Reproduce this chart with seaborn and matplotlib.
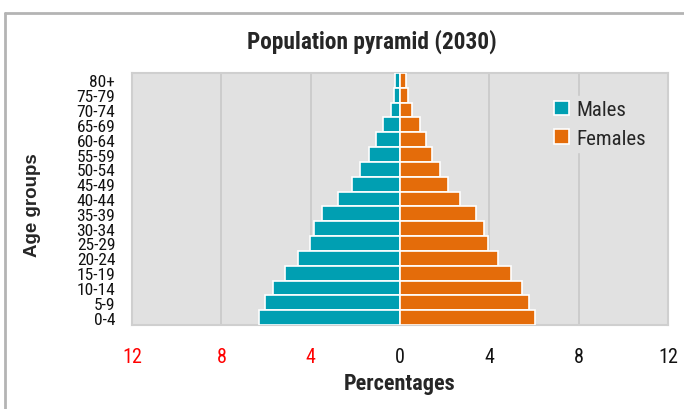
import matplotlib
matplotlib.use("Agg")
import matplotlib.pyplot as plt
import seaborn as sns
import pandas as pd
from matplotlib.lines import Line2D

age_groups = ["80+", "75-79", "70-74", "65-69", "60-64", "55-59", "50-54", "45-49",
              "40-44", "35-39", "30-34", "25-29", "20-24", "15-19", "10-14", "5-9", "0-4"]
males = [0.22, 0.27, 0.42, 0.78, 1.09, 1.40, 1.78, 2.17, 2.76, 3.51, 3.87, 4.05,
         4.56, 5.16, 5.68, 6.06, 6.33]
females = [0.28, 0.34, 0.55, 0.88, 1.15, 1.43, 1.78, 2.14, 2.69, 3.42, 3.75, 3.92,
           4.38, 4.95, 5.46, 5.79, 6.04]
x_ticks = [-12, -8, -4, 0, 4, 8, 12]
x_tick_labels = ["12", "8", "4", "0", "4", "8", "12"]

sns.set_style("white")
plt.rcParams["font.family"] = ["Liberation Sans Narrow", "Roboto Condensed", "DejaVu Sans"]

df = pd.DataFrame({
    "age": age_groups * 2,
    "value": [-m for m in males] + females,
    "sex": ["Males"] * len(age_groups) + ["Females"] * len(age_groups),
})

fig = plt.figure(figsize=(6.84, 4.10), dpi=100)
ax = fig.add_axes([132 / 684, 1 - 326 / 410, (668 - 132) / 684, (326 - 74) / 410])
ax.set_facecolor("#e1e1e1")

sns.barplot(data=df, y="age", x="value", hue="sex", order=age_groups,
            hue_order=["Males", "Females"], palette=["#009fb2", "#e46c0a"],
            saturation=1, dodge=False, width=1.0, orient="h", edgecolor="white",
            linewidth=1.2, ax=ax, zorder=3)

ax.set_xlim(-12, 12)
ax.set_ylim(len(age_groups) - 0.5, -0.5)
ax.set_xticks(x_ticks)
ax.set_xticklabels(x_tick_labels)
for lbl, v in zip(ax.get_xticklabels(), x_ticks):
    lbl.set_color("#ff0000" if v < 0 else "#111111")
ax.tick_params(axis="x", length=7, color="#cccccc", width=1, labelsize=14.5, pad=9)
ax.tick_params(axis="y", length=0, labelsize=12.5, pad=12, labelcolor="#111111")
ax.xaxis.grid(True, color="#c8c8c8", linewidth=1.2, zorder=0)
ax.set_axisbelow(True)
for s in ax.spines.values():
    s.set_color("#cfcfcf")
    s.set_linewidth(1.5)

ax.set_xlabel("Percentages", fontsize=16, fontweight="bold", labelpad=4)
ax.set_ylabel("Age groups", fontsize=13.5, fontweight="bold",
              family=["Liberation Sans", "DejaVu Sans"])
ax.yaxis.set_label_coords(-0.17, 0.48)

leg = ax.legend(loc="upper left", bbox_to_anchor=(0.76, 0.95), frameon=True,
                facecolor="#e1e1e1", edgecolor="#e1e1e1", framealpha=1,
                fontsize=15, handlelength=0.7, handleheight=0.7,
                handletextpad=0.4, labelspacing=0.45, borderpad=0.2)
leg.set_zorder(5)

fig.text(372 / 684, 1 - 42 / 410, "Population pyramid (2030)", ha="center", va="center",
         fontsize=16.8, fontweight="bold")

fig.add_artist(Line2D([5 / 684, 1.0], [1 - 14 / 410, 1 - 14 / 410],
                      transform=fig.transFigure, color="#b4b4b4", linewidth=2))
fig.add_artist(Line2D([5 / 684, 5 / 684], [0, 1 - 14 / 410],
                      transform=fig.transFigure, color="#b4b4b4", linewidth=2))

fig.savefig("out.png", dpi=100)
